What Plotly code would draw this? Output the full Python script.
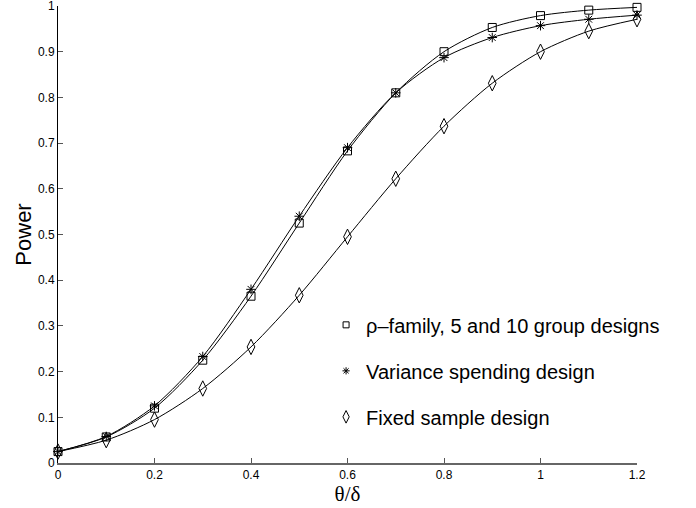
import plotly.graph_objects as go

theta = [0, 0.1, 0.2, 0.3, 0.4, 0.5, 0.6, 0.7, 0.8, 0.9, 1.0, 1.1, 1.2]
rho_family = [0.025, 0.057, 0.12, 0.225, 0.365, 0.525, 0.683, 0.81, 0.9, 0.953, 0.979, 0.991, 0.997]
variance_spending = [0.025, 0.058, 0.125, 0.233, 0.38, 0.54, 0.69, 0.81, 0.887, 0.931, 0.957, 0.971, 0.98]
fixed_sample = [0.025, 0.05, 0.095, 0.163, 0.254, 0.367, 0.495, 0.622, 0.737, 0.831, 0.9, 0.945, 0.971]

names = ["\u03c1\u2013family, 5 and 10 group designs", "Variance spending design", "Fixed sample design"]
series = [rho_family, variance_spending, fixed_sample]
symbols = ["square-open", "asterisk-open", "diamond-tall-open"]
sizes = [8, 8, 11]

fig = go.Figure()
for i, (name, ys, sym, sz) in enumerate(zip(names, series, symbols, sizes)):
    fig.add_trace(go.Scatter(
        x=theta, y=ys, mode="lines+markers", showlegend=False,
        line=dict(color="black", width=1, shape="spline", smoothing=0.8),
        marker=dict(symbol=sym, size=sz, color="black", line=dict(color="black", width=1)),
        cliponaxis=False,
    ))
    fig.add_trace(go.Scatter(
        x=[None], y=[None], mode="markers", name=name, legendgroup=f"g{i}",
        marker=dict(symbol=sym, size=sz - 2, color="black", line=dict(color="black", width=1)),
    ))

fig.update_layout(
    width=696, height=508,
    paper_bgcolor="white", plot_bgcolor="white",
    margin=dict(l=58, r=59, t=6, b=45, autoexpand=False),
    font=dict(family="Liberation Sans, Arial, sans-serif", color="black", size=12),
    legend=dict(
        x=0.463, y=0.345, xref="paper", yref="paper", xanchor="left", yanchor="top",
        bgcolor="rgba(0,0,0,0)", font=dict(size=20, family="Liberation Sans, Arial, sans-serif"),
        tracegroupgap=17, itemwidth=30,
    ),
)
fig.update_xaxes(
    range=[0, 1.2], tickvals=[0, 0.2, 0.4, 0.6, 0.8, 1, 1.2],
    ticktext=["0", "0.2", "0.4", "0.6", "0.8", "1", "1.2"],
    showgrid=False, zeroline=False, showline=True, linecolor="#666", linewidth=1.5,
    ticks="inside", ticklen=5, tickcolor="#555", automargin=False, ticklabeloverflow="allow",
    title=dict(text="\u03b8/\u03b4", font=dict(family="Liberation Serif, Times New Roman, serif", size=21), standoff=0),
)
fig.update_yaxes(
    range=[0, 1], tickvals=[0, 0.1, 0.2, 0.3, 0.4, 0.5, 0.6, 0.7, 0.8, 0.9, 1],
    ticktext=["0", "0.1", "0.2", "0.3", "0.4", "0.5", "0.6", "0.7", "0.8", "0.9", "1"],
    showgrid=False, zeroline=False, showline=True, linecolor="black", linewidth=1,
    ticks="inside", ticklen=5, tickcolor="#555", automargin=False, ticklabeloverflow="allow",
    title=dict(text="Power", font=dict(size=22), standoff=0),
)

fig.write_html("out.html", config={"displayModeBar": False},
               post_script="document.body.style.margin='0';")
